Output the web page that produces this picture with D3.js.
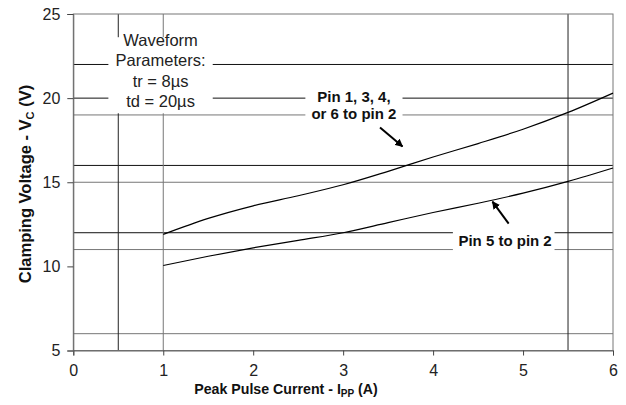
<!DOCTYPE html>
<html>
<head>
<meta charset="utf-8">
<script src="https://cdn.jsdelivr.net/npm/d3@7"></script>
<style>
  body { margin: 0; background: #fff; }
  text { font-family: "Liberation Sans", Arial, sans-serif; }
</style>
</head>
<body>
<div id="chart"></div>
<script>
// data
const currents = [1, 1.5, 2, 2.5, 3, 3.5, 4, 4.5, 5, 5.5, 6];
const pins1346 = [11.9, 12.85, 13.6, 14.2, 14.85, 15.65, 16.5, 17.3, 18.15, 19.15, 20.3];
const pin5 = [10.05, 10.6, 11.1, 11.55, 12.0, 12.6, 13.2, 13.75, 14.35, 15.05, 15.85];
const xTicks = [0, 1, 2, 3, 4, 5, 6];
const yTicks = [5, 10, 15, 20, 25];
// extra reference lines drawn across the plot
const hLinesDark = [12, 16, 20, 22];
const hLinesGray = [6, 11, 15, 19];
const vLines = [0.5, 1, 5.5];

function main() {
  const width = 626, height = 405;
  const margin = {top: 14, right: 13, bottom: 54.5, left: 73.3};

  const svg = d3.select("#chart").append("svg")
    .attr("width", width)
    .attr("height", height);

  const x = d3.scaleLinear().domain([0, 6]).range([margin.left, width - margin.right]);
  const y = d3.scaleLinear().domain([5, 25]).range([height - margin.bottom, margin.top]);

  // arrow head
  svg.append("defs").append("marker")
    .attr("id", "head")
    .attr("viewBox", "0 0 10 10")
    .attr("refX", 9).attr("refY", 5)
    .attr("markerWidth", 8).attr("markerHeight", 8)
    .attr("markerUnits", "userSpaceOnUse")
    .attr("orient", "auto")
    .append("path")
    .attr("d", "M0,0 L10,5 L0,10 z")
    .attr("fill", "#000");

  // horizontal lines
  svg.append("g").selectAll("line.hd")
    .data(hLinesDark)
    .join("line")
    .attr("x1", x(0)).attr("x2", x(6))
    .attr("y1", d => y(d)).attr("y2", d => y(d))
    .attr("stroke", "#111").attr("stroke-width", 1);
  svg.append("g").selectAll("line.hg")
    .data(hLinesGray)
    .join("line")
    .attr("x1", x(0)).attr("x2", x(6))
    .attr("y1", d => y(d)).attr("y2", d => y(d))
    .attr("stroke", "#777").attr("stroke-width", 1);

  // vertical lines
  svg.append("g").selectAll("line")
    .data(vLines)
    .join("line")
    .attr("x1", d => x(d)).attr("x2", d => x(d))
    .attr("y1", y(25)).attr("y2", y(5))
    .attr("stroke", (d, i) => i == 1 ? "#777" : "#222")
    .attr("stroke-width", 1);

  // frame
  svg.append("rect")
    .attr("x", x(0)).attr("y", y(25))
    .attr("width", x(6) - x(0)).attr("height", y(5) - y(25))
    .attr("fill", "none").attr("stroke", "#777");

  // axes
  const xAxis = svg.append("g")
    .attr("transform", `translate(0,${y(5)})`)
    .call(d3.axisBottom(x).tickValues(xTicks).tickFormat(d3.format("d")).tickSize(5).tickPadding(9));
  const yAxis = svg.append("g")
    .attr("transform", `translate(${x(0)},0)`)
    .call(d3.axisLeft(y).tickValues(yTicks).tickFormat(d3.format("d")).tickSize(6).tickPadding(7));
  [xAxis, yAxis].forEach(a => {
    a.select(".domain").attr("stroke", "#666");
    a.selectAll(".tick line").attr("stroke", "#444");
    a.selectAll(".tick text")
      .attr("font-size", 16)
      .attr("fill", "#222")
      .style("font-family", "'Liberation Sans', Arial, sans-serif");
  });

  // curves
  const line = d3.line()
    .x(d => x(d[0]))
    .y(d => y(d[1]))
    .curve(d3.curveMonotoneX);
  [pins1346, pin5].forEach(s => {
    svg.append("path")
      .datum(currents.map((c, i) => [c, s[i]]))
      .attr("d", line)
      .attr("fill", "none")
      .attr("stroke", "#000")
      .attr("stroke-width", 1.2);
  });

  // white boxes behind the annotations
  const boxes = [
    {x0: 0.39, x1: 1.55, y0: 23.62, y1: 19.1},
    {x0: 2.58, x1: 3.66, y0: 20.6, y1: 18.55},
    {x0: 4.22, x1: 5.35, y0: 12.3, y1: 10.8}
  ];
  svg.append("g").selectAll("rect")
    .data(boxes)
    .join("rect")
    .attr("x", d => x(d.x0)).attr("y", d => y(d.y0))
    .attr("width", d => x(d.x1) - x(d.x0))
    .attr("height", d => y(d.y1) - y(d.y0))
    .attr("fill", "#fff");

  // waveform parameters
  const wave = ["Waveform", "Parameters:", "tr = 8\u00b5s", "td = 20\u00b5s"];
  svg.append("g").selectAll("text")
    .data(wave)
    .join("text")
    .attr("x", x(0.97))
    .attr("y", (d, i) => y(23.1) + i * 20.3)
    .attr("text-anchor", "middle")
    .attr("font-size", 16.5)
    .attr("fill", "#222")
    .text(d => d);

  // pin labels
  const pinA = ["Pin 1, 3, 4,", "or 6 to pin 2"];
  svg.append("g").selectAll("text")
    .data(pinA)
    .join("text")
    .attr("x", x(3.12))
    .attr("y", (d, i) => y(19.75) + i * 17)
    .attr("text-anchor", "middle")
    .attr("font-size", 15)
    .attr("font-weight", "bold")
    .attr("fill", "#111")
    .text(d => d);
  svg.append("text")
    .attr("x", x(4.8))
    .attr("y", y(11.2))
    .attr("text-anchor", "middle")
    .attr("font-size", 15)
    .attr("font-weight", "bold")
    .attr("fill", "#111")
    .text("Pin 5 to pin 2");

  // arrows
  const arrows = [
    {from: [3.41, 18.26], to: [3.66, 17.13]},
    {from: [4.84, 12.54], to: [4.66, 13.85]}
  ];
  svg.append("g").selectAll("line")
    .data(arrows)
    .join("line")
    .attr("x1", d => x(d.from[0])).attr("y1", d => y(d.from[1]))
    .attr("x2", d => x(d.to[0])).attr("y2", d => y(d.to[1]))
    .attr("stroke", "#000").attr("stroke-width", 2)
    .attr("marker-end", "url(#head)");

  // axis titles
  const xt = svg.append("text")
    .attr("x", 286).attr("y", 394)
    .attr("text-anchor", "middle")
    .attr("font-size", 14.2).attr("font-weight", "bold").attr("fill", "#111");
  xt.append("tspan").text("Peak Pulse Current - I");
  xt.append("tspan").attr("font-size", 10).attr("dy", 3).text("PP");
  xt.append("tspan").attr("dy", -3).text(" (A)");

  const yt = svg.append("text")
    .attr("transform", "translate(31,184) rotate(-90)")
    .attr("text-anchor", "middle")
    .attr("font-size", 16.5).attr("font-weight", "bold").attr("fill", "#111");
  yt.append("tspan").text("Clamping Voltage - V");
  yt.append("tspan").attr("font-size", 11).attr("dy", 3).text("C");
  yt.append("tspan").attr("dy", -3).text(" (V)");
}
main();
</script>
</body>
</html>
